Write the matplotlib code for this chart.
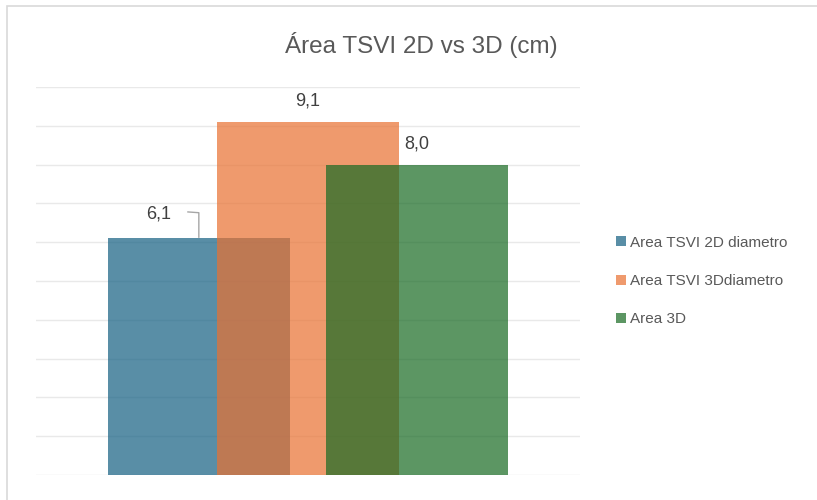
import matplotlib
matplotlib.use("Agg")
import matplotlib.pyplot as plt
from matplotlib.patches import Rectangle

series = ["Area TSVI 2D diametro", "Area TSVI 3Ddiametro", "Area 3D"]
values = [6.1, 9.1, 8.0]
labels = ["6,1", "9,1", "8,0"]
colors = ["#156082", "#E97132", "#196B24"]

plt.rcParams['font.family'] = ['Liberation Sans', 'DejaVu Sans']

fig = plt.figure(figsize=(8.17, 5.0), dpi=100)
fig.patch.set_facecolor("white")

# chart frame (top and left edges only are visible)
fig.patches.append(Rectangle((7/817, -0.1), 1.2, 1 - 6/500 + 0.1, transform=fig.transFigure,
                             fill=False, edgecolor="#D9D9D9", linewidth=1.2))

ax = fig.add_axes([36/817, 25/500, 544/817, 388/500])
ax.set_xlim(-1.495, 1.495)
ax.set_ylim(0, 10)

# overlapping bars, one per series
offsets = [-0.6, 0.0, 0.6]
for x, v, c, name in zip(offsets, values, colors, series):
    ax.bar(x, v, width=1.0, color=c, alpha=0.71, label=name, zorder=2, linewidth=0)

for y in range(0, 11):
    ax.axhline(y, color="#E9E9E9", linewidth=1.0, zorder=1)

for s in ax.spines.values():
    s.set_visible(False)
ax.set_xticks([])
ax.set_yticks([])

# data labels
ax.text(offsets[1], values[1] + 0.32, labels[1], ha="center", va="bottom", fontsize=13, color="#404040")
ax.text(offsets[2], values[2] + 0.32, labels[2], ha="center", va="bottom", fontsize=13, color="#404040")
# first label sits left of its bar with a leader line
ax.text(-0.82, values[0] + 0.42, labels[0], ha="center", va="bottom", fontsize=13, color="#404040")
ax.plot([-0.66, -0.6, -0.6], [values[0] + 0.68, values[0] + 0.66, values[0] + 0.03],
        color="#A6A6A6", linewidth=1.0, zorder=3)

fig.text(421/817, 1 - 45/500, "Área TSVI 2D vs 3D (cm)", ha="center", va="center",
         fontsize=17.5, color="#595959")

handles, names = ax.get_legend_handles_labels()
leg = fig.legend(handles, names, loc="center left", bbox_to_anchor=(602/817, 1 - 281/500),
                 frameon=False, fontsize=11, labelcolor="#595959", handlelength=0.65,
                 handleheight=0.65, handletextpad=0.3, labelspacing=1.6)

fig.savefig("out.png", dpi=100)
